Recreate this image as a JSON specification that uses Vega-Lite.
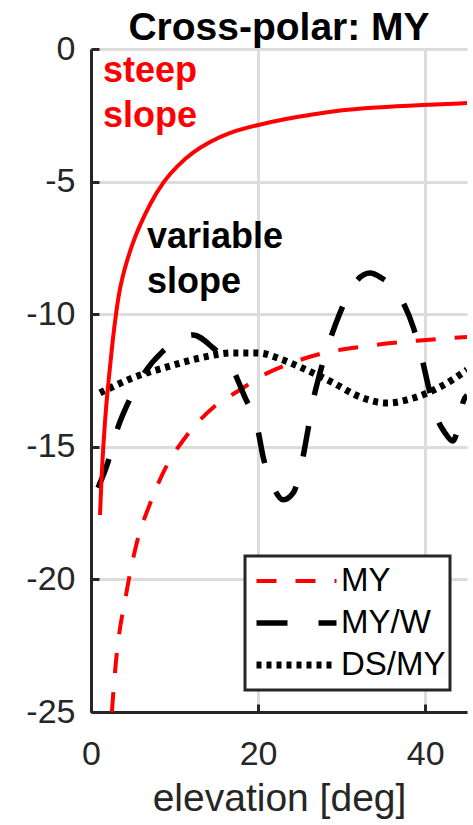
{
  "$schema": "https://vega.github.io/schema/vega-lite/v6.json",
  "width": 376,
  "height": 663,
  "autosize": {"type": "none"},
  "padding": {"left": 91, "top": 49, "right": 6, "bottom": 113},
  "background": "white",
  "title": {"text": "Cross-polar: MY", "fontSize": 39, "font": "Liberation Sans", "fontWeight": "bold", "color": "#000000", "anchor": "middle", "frame": "group", "offset": -16},
  "config": {
    "view": {"stroke": null},
    "font": "Liberation Sans",
    "legend": {"strokeWidth": 3}
  },
  "datasets": {
    "curves": [
      {"series": "MY", "x": 2.5, "y": -25.0},
      {"series": "MY", "x": 2.87, "y": -23.5},
      {"series": "MY", "x": 4.3, "y": -20.4},
      {"series": "MY", "x": 5.5, "y": -18.6},
      {"series": "MY", "x": 7.0, "y": -17.2},
      {"series": "MY", "x": 8.6, "y": -16.0},
      {"series": "MY", "x": 11.4, "y": -14.6},
      {"series": "MY", "x": 14.7, "y": -13.5},
      {"series": "MY", "x": 17.8, "y": -12.86},
      {"series": "MY", "x": 20.6, "y": -12.3},
      {"series": "MY", "x": 23.5, "y": -11.9},
      {"series": "MY", "x": 27.4, "y": -11.5},
      {"series": "MY", "x": 33.1, "y": -11.2},
      {"series": "MY", "x": 39.0, "y": -11.0},
      {"series": "MY", "x": 45.0, "y": -10.86},
      {"series": "MY/W", "x": 0.84, "y": -16.55},
      {"series": "MY/W", "x": 2.04, "y": -15.57},
      {"series": "MY/W", "x": 3.11, "y": -14.37},
      {"series": "MY/W", "x": 4.43, "y": -13.35},
      {"series": "MY/W", "x": 6.23, "y": -12.29},
      {"series": "MY/W", "x": 8.5, "y": -11.43},
      {"series": "MY/W", "x": 10.06, "y": -11.05},
      {"series": "MY/W", "x": 12.2, "y": -10.78},
      {"series": "MY/W", "x": 14.5, "y": -11.24},
      {"series": "MY/W", "x": 17.0, "y": -12.1},
      {"series": "MY/W", "x": 18.4, "y": -13.12},
      {"series": "MY/W", "x": 19.9, "y": -14.25},
      {"series": "MY/W", "x": 20.6, "y": -15.38},
      {"series": "MY/W", "x": 21.8, "y": -16.5},
      {"series": "MY/W", "x": 23.0, "y": -17.0},
      {"series": "MY/W", "x": 24.2, "y": -16.74},
      {"series": "MY/W", "x": 25.3, "y": -15.5},
      {"series": "MY/W", "x": 25.9, "y": -14.48},
      {"series": "MY/W", "x": 26.6, "y": -13.24},
      {"series": "MY/W", "x": 27.4, "y": -12.22},
      {"series": "MY/W", "x": 28.6, "y": -10.97},
      {"series": "MY/W", "x": 29.8, "y": -9.95},
      {"series": "MY/W", "x": 31.4, "y": -8.9},
      {"series": "MY/W", "x": 33.4, "y": -8.45},
      {"series": "MY/W", "x": 34.6, "y": -8.6},
      {"series": "MY/W", "x": 37.2, "y": -9.46},
      {"series": "MY/W", "x": 38.6, "y": -10.52},
      {"series": "MY/W", "x": 39.6, "y": -11.65},
      {"series": "MY/W", "x": 40.4, "y": -12.75},
      {"series": "MY/W", "x": 41.4, "y": -13.91},
      {"series": "MY/W", "x": 42.3, "y": -14.44},
      {"series": "MY/W", "x": 43.3, "y": -14.78},
      {"series": "MY/W", "x": 44.0, "y": -14.2},
      {"series": "MY/W", "x": 44.55, "y": -13.3},
      {"series": "MY/W", "x": 45.0, "y": -13.05},
      {"series": "DS/MY", "x": 1.08, "y": -12.97},
      {"series": "DS/MY", "x": 5.0, "y": -12.4},
      {"series": "DS/MY", "x": 9.1, "y": -11.99},
      {"series": "DS/MY", "x": 13.05, "y": -11.65},
      {"series": "DS/MY", "x": 17.0, "y": -11.46},
      {"series": "DS/MY", "x": 19.9, "y": -11.46},
      {"series": "DS/MY", "x": 23.0, "y": -11.73},
      {"series": "DS/MY", "x": 25.0, "y": -11.99},
      {"series": "DS/MY", "x": 29.0, "y": -12.59},
      {"series": "DS/MY", "x": 32.2, "y": -13.12},
      {"series": "DS/MY", "x": 35.4, "y": -13.35},
      {"series": "DS/MY", "x": 38.6, "y": -13.16},
      {"series": "DS/MY", "x": 41.8, "y": -12.74},
      {"series": "DS/MY", "x": 45.0, "y": -12.1}
    ],
    "steep": [
      {"x": 1.08, "y": -17.57},
      {"x": 1.28, "y": -16.0},
      {"x": 1.47, "y": -15.0},
      {"x": 1.68, "y": -13.99},
      {"x": 1.95, "y": -12.98},
      {"x": 2.28, "y": -11.98},
      {"x": 2.6, "y": -10.97},
      {"x": 2.99, "y": -9.97},
      {"x": 3.47, "y": -8.96},
      {"x": 4.19, "y": -8.08},
      {"x": 5.07, "y": -7.25},
      {"x": 5.66, "y": -6.78},
      {"x": 7.07, "y": -5.82},
      {"x": 8.66, "y": -5.0},
      {"x": 10.26, "y": -4.42},
      {"x": 12.25, "y": -3.87},
      {"x": 14.25, "y": -3.5},
      {"x": 16.25, "y": -3.18},
      {"x": 19.84, "y": -2.87},
      {"x": 23.03, "y": -2.65},
      {"x": 26.2, "y": -2.49},
      {"x": 29.0, "y": -2.33},
      {"x": 34.0, "y": -2.2},
      {"x": 39.8, "y": -2.11},
      {"x": 45.0, "y": -2.04}
    ],
    "steepText": [
      {"label": "steep", "x": 1.44, "y": -1.24},
      {"label": "slope", "x": 1.44, "y": -2.94}
    ],
    "varText": [
      {"label": "variable", "x": 6.7, "y": -7.5},
      {"label": "slope", "x": 6.7, "y": -9.2}
    ]
  },
  "layer": [
    {
      "data": {"name": "curves"},
      "mark": {"type": "line", "interpolate": "monotone", "clip": true},
      "encoding": {
        "x": {
          "field": "x", "type": "quantitative",
          "scale": {"domain": [0, 45], "nice": false, "zero": false},
          "axis": {
            "title": "elevation [deg]", "values": [0, 20, 40], "labelFlush": false,
            "grid": true, "gridColor": "#dcdcdc", "gridWidth": 3,
            "domainColor": "#262626", "domainWidth": 3,
            "tickColor": "#262626", "tickWidth": 3, "tickSize": -8,
            "labelFontSize": 34, "labelColor": "#262626", "labelPadding": 33, "labelFont": "Liberation Sans",
            "titleFontSize": 39, "titleFontWeight": "normal", "titleColor": "#262626", "titlePadding": 8, "titleFont": "Liberation Sans"
          }
        },
        "y": {
          "field": "y", "type": "quantitative",
          "scale": {"domain": [-25, 0], "nice": false, "zero": false},
          "axis": {
            "title": null, "values": [-25, -20, -15, -10, -5, 0], "labelFlush": false,
            "labelExpr": "'' + datum.value",
            "grid": true, "gridColor": "#dcdcdc", "gridWidth": 3,
            "domainColor": "#262626", "domainWidth": 3,
            "tickColor": "#262626", "tickWidth": 3, "tickSize": -8,
            "labelFontSize": 34, "labelColor": "#262626", "labelPadding": 24, "labelFont": "Liberation Sans"
          }
        },
        "color": {
          "field": "series", "type": "nominal",
          "scale": {"domain": ["MY", "MY/W", "DS/MY"], "range": ["#ff0000", "#000000", "#000000"]},
          "legend": {
            "orient": "none", "legendX": 154, "legendY": 507, "title": null,
            "symbolType": "stroke", "symbolSize": 6400, "clipHeight": 42, "rowPadding": 0,
            "padding": 4, "strokeColor": "#262626", "fillColor": "white",
            "labelFontSize": 33, "labelColor": "#000000", "labelFont": "Liberation Sans",
            "labelOffset": 1, "symbolOffset": 4, "cornerRadius": 0
          }
        },
        "strokeDash": {
          "field": "series", "type": "nominal",
          "scale": {"domain": ["MY", "MY/W", "DS/MY"], "range": [[20, 19], [31, 31], [5, 5]]}
        },
        "strokeWidth": {
          "field": "series", "type": "nominal",
          "scale": {"domain": ["MY", "MY/W", "DS/MY"], "range": [4, 7, 5]}
        }
      }
    },
    {
      "data": {"name": "steep"},
      "mark": {"type": "line", "interpolate": "basis", "color": "#ff0000", "strokeWidth": 4, "clip": true},
      "encoding": {
        "x": {"field": "x", "type": "quantitative"},
        "y": {"field": "y", "type": "quantitative"}
      }
    },
    {
      "data": {"name": "steepText"},
      "mark": {"type": "text", "align": "left", "baseline": "alphabetic", "font": "Liberation Sans", "fontWeight": "bold", "fontSize": 36, "color": "#ff0000"},
      "encoding": {
        "x": {"field": "x", "type": "quantitative"},
        "y": {"field": "y", "type": "quantitative"},
        "text": {"field": "label"}
      }
    },
    {
      "data": {"name": "varText"},
      "mark": {"type": "text", "align": "left", "baseline": "alphabetic", "font": "Liberation Sans", "fontWeight": "bold", "fontSize": 36, "color": "#000000"},
      "encoding": {
        "x": {"field": "x", "type": "quantitative"},
        "y": {"field": "y", "type": "quantitative"},
        "text": {"field": "label"}
      }
    }
  ]
}
